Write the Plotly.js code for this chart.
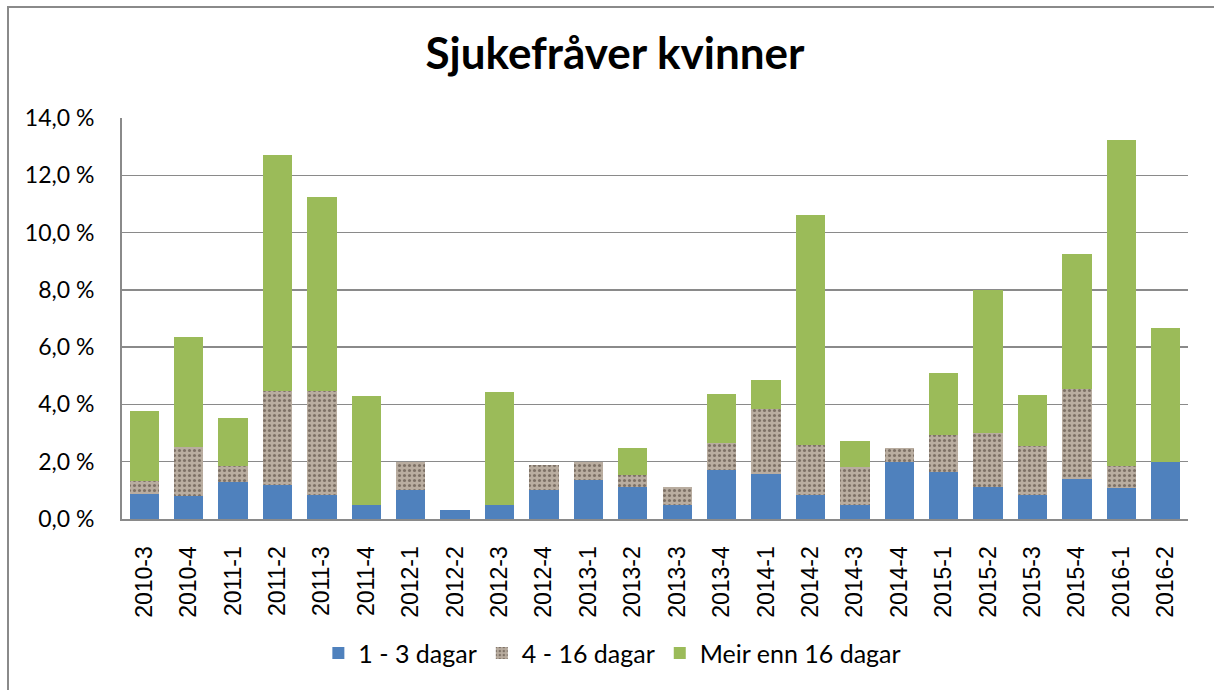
<!DOCTYPE html>
<html>
<head>
<meta charset="utf-8">
<script src="https://cdn.plot.ly/plotly-3.0.1.min.js"></script>
<style>
  html, body { margin: 0; padding: 0; width: 1214px; height: 690px; overflow: hidden; background: #fff; }
  #chart { position: absolute; left: 0; top: 0; width: 1214px; height: 690px; }
  #frame { position: absolute; left: 7px; top: 6px; width: 1300px; height: 800px; border: 2px solid #8a8a8a; pointer-events: none; box-sizing: border-box; }
  #note { position: absolute; left: 8px; top: -17px; font-family: "Liberation Sans", Arial, sans-serif; font-style: italic; font-size: 20px; color: #222; white-space: nowrap; }
</style>
</head>
<body>
<div id="note">Grafen nedanfor viser sjukefråvær fordelt på lengd og kvartal i perioden</div>
<div id="chart"></div>
<div id="frame"></div>
<script>
const categories = ["2010-3","2010-4","2011-1","2011-2","2011-3","2011-4","2012-1","2012-2","2012-3","2012-4",
  "2013-1","2013-2","2013-3","2013-4","2014-1","2014-2","2014-3","2014-4","2015-1","2015-2","2015-3","2015-4","2016-1","2016-2"];
const seriesNames = ["1 - 3 dagar", "4 - 16 dagar", "Meir enn 16 dagar"];
const days1to3 = [0.87,0.80,1.30,1.19,0.84,0.49,1.01,0.31,0.49,1.01,1.37,1.12,0.49,1.71,1.57,0.84,0.49,1.99,1.64,1.12,0.84,1.40,1.09,1.99];
const days4to16 = [0.47,1.73,0.55,3.29,3.63,0,0.98,0,0,0.87,0.62,0.42,0.63,0.96,2.27,1.74,1.33,0.49,1.29,1.88,1.71,3.14,0.77,0];
const daysOver16 = [2.43,3.82,1.68,8.23,6.77,3.80,0,0,3.94,0,0,0.94,0,1.69,1.01,8.03,0.90,0,2.17,5.00,1.78,4.71,11.37,4.68];
const yTicks = [0,2,4,6,8,10,12,14];
const yTickLabels = ["0,0 %","2,0 %","4,0 %","6,0 %","8,0 %","10,0 %","12,0 %","14,0 %"];
const chartTitle = "Sjukefråver kvinner";

const traces = [
  { type: "bar", name: seriesNames[0], x: categories, y: days1to3,
    marker: { color: "#4f81bd", line: { width: 0 } } },
  { type: "bar", name: seriesNames[1], x: categories, y: days4to16,
    marker: { color: "#ab9f92", line: { width: 0 },
      pattern: { shape: ".", fgcolor: "#7d7166", bgcolor: "#b9ada0", size: 5, solidity: 0.3, fillmode: "replace" } } },
  { type: "bar", name: seriesNames[2], x: categories, y: daysOver16,
    marker: { color: "#9bbb59", line: { width: 0 } } }
];

const layout = {
  width: 1214, height: 690,
  barmode: "stack",
  bargap: 0.34,
  paper_bgcolor: "#ffffff",
  plot_bgcolor: "#ffffff",
  margin: { l: 122, r: 26, t: 118, b: 171, pad: 0 },
  title: { text: "<b>" + chartTitle + "</b>", x: 615/1214, xref: "container", xanchor: "center",
           y: 1 - 54/690, yanchor: "middle",
           font: { family: "Lato, 'Open Sans', sans-serif", size: 44, color: "#000" } },
  showlegend: true,
  legend: { orientation: "h", x: 0.46, xanchor: "center", y: -0.335, yanchor: "middle",
            font: { family: "Lato, sans-serif", size: 25, color: "#000" },
            itemwidth: 30, traceorder: "normal" },
  xaxis: {
    type: "category",
    tickangle: -90,
    tickfont: { family: "'Liberation Sans', Arial, sans-serif", size: 23, color: "#000" },
    showline: true, linecolor: "#8a8a8a", linewidth: 2,
    ticks: "", showgrid: false, zeroline: false,
    ticklabelstandoff: 16,
    fixedrange: true
  },
  yaxis: {
    range: [0, 14],
    tickmode: "array",
    tickvals: yTicks,
    ticktext: yTickLabels,
    tickfont: { family: "Lato, sans-serif", size: 23, color: "#000" },
    showline: true, linecolor: "#8a8a8a", linewidth: 2,
    showgrid: true, gridcolor: "#8a8a8a", gridwidth: 1.5,
    zeroline: false, ticks: "",
    ticklabelstandoff: 21,
    fixedrange: true
  }
};

Plotly.newPlot("chart", traces, layout, { staticPlot: true, displayModeBar: false });
</script>
</body>
</html>
